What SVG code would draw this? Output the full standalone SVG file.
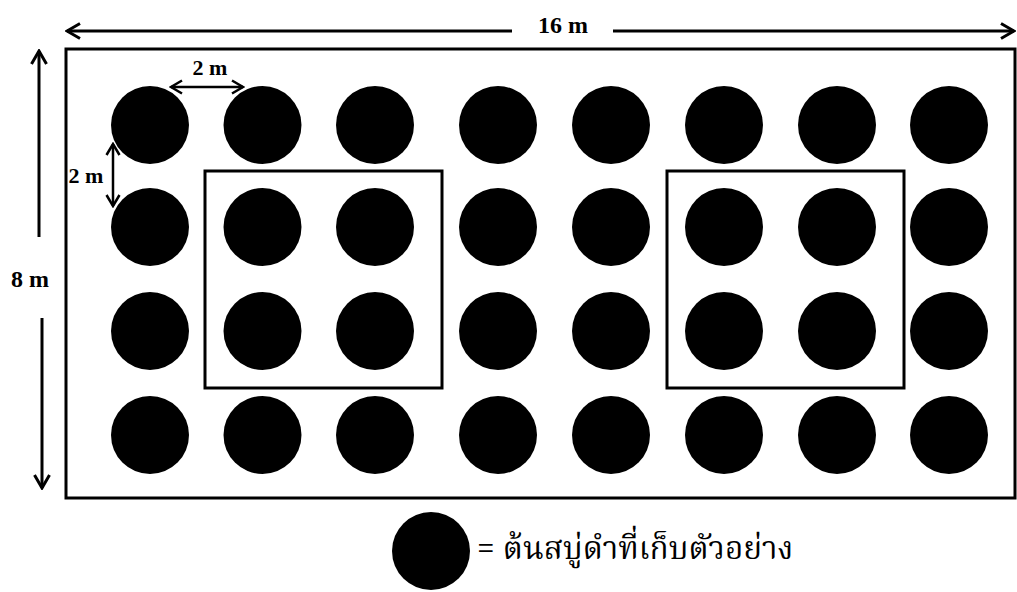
<svg xmlns="http://www.w3.org/2000/svg" width="1017" height="592" viewBox="0 0 1017 592">
  <style>
    .tree { fill: #000; }
    .frame { fill: none; stroke: #000; stroke-width: 3; }
    .dim { fill: none; stroke: #000; stroke-width: 3; }
    .dimS { fill: none; stroke: #000; stroke-width: 2.5; }
    .lbl { font-family: "Liberation Serif", "Times New Roman", serif; font-weight: bold; fill: #000; }
    .thai { font-family: "Noto Serif Thai", "Noto Sans Thai", "Tlwg Typo", "Garuda", "DejaVu Sans", sans-serif; fill: #000; }
  </style>
  <defs>
    <marker id="head" viewBox="0 0 16 18" refX="14" refY="9" markerWidth="16" markerHeight="18" markerUnits="userSpaceOnUse" orient="auto-start-reverse">
      <path d="M1,1.5 L14,9 L1,16.5" fill="none" stroke="#000" stroke-width="3"/>
    </marker>
    <marker id="headS" viewBox="0 0 14 16" refX="12" refY="8" markerWidth="14" markerHeight="16" markerUnits="userSpaceOnUse" orient="auto-start-reverse">
      <path d="M1,1.5 L12,8 L1,14.5" fill="none" stroke="#000" stroke-width="2.5"/>
    </marker>
  </defs>
  <rect width="1017" height="592" fill="#fff"/>

  <g id="plot">
    <rect class="frame" x="66" y="49" width="949" height="449"/>
  </g>
  <g id="subplot-left">
    <rect class="frame" x="205" y="171" width="237" height="217"/>
  </g>
  <g id="subplot-right">
    <rect class="frame" x="667" y="171" width="237" height="217"/>
  </g>

  <g id="trees">
    <g id="row1">
      <circle class="tree" cx="150" cy="125" r="39"/>
      <circle class="tree" cx="262.5" cy="125" r="39"/>
      <circle class="tree" cx="375" cy="125" r="39"/>
      <circle class="tree" cx="498" cy="125" r="39"/>
      <circle class="tree" cx="611" cy="125" r="39"/>
      <circle class="tree" cx="724" cy="125" r="39"/>
      <circle class="tree" cx="837" cy="125" r="39"/>
      <circle class="tree" cx="949" cy="125" r="39"/>
    </g>
    <g id="row2">
      <circle class="tree" cx="150" cy="227" r="39"/>
      <circle class="tree" cx="262.5" cy="227" r="39"/>
      <circle class="tree" cx="375" cy="227" r="39"/>
      <circle class="tree" cx="498" cy="227" r="39"/>
      <circle class="tree" cx="611" cy="227" r="39"/>
      <circle class="tree" cx="724" cy="227" r="39"/>
      <circle class="tree" cx="837" cy="227" r="39"/>
      <circle class="tree" cx="949" cy="227" r="39"/>
    </g>
    <g id="row3">
      <circle class="tree" cx="150" cy="331" r="39"/>
      <circle class="tree" cx="262.5" cy="331" r="39"/>
      <circle class="tree" cx="375" cy="331" r="39"/>
      <circle class="tree" cx="498" cy="331" r="39"/>
      <circle class="tree" cx="611" cy="331" r="39"/>
      <circle class="tree" cx="724" cy="331" r="39"/>
      <circle class="tree" cx="837" cy="331" r="39"/>
      <circle class="tree" cx="949" cy="331" r="39"/>
    </g>
    <g id="row4">
      <circle class="tree" cx="150" cy="435" r="39"/>
      <circle class="tree" cx="262.5" cy="435" r="39"/>
      <circle class="tree" cx="375" cy="435" r="39"/>
      <circle class="tree" cx="498" cy="435" r="39"/>
      <circle class="tree" cx="611" cy="435" r="39"/>
      <circle class="tree" cx="724" cy="435" r="39"/>
      <circle class="tree" cx="837" cy="435" r="39"/>
      <circle class="tree" cx="949" cy="435" r="39"/>
    </g>
  </g>

  <g id="dimensions">
    <path class="dim" d="M512,31 H67" marker-end="url(#head)"/>
    <path class="dim" d="M613,31 H1014" marker-end="url(#head)"/>
    <path class="dim" d="M39,237 V51" marker-end="url(#head)"/>
    <path class="dim" d="M42,318 V488" marker-end="url(#head)"/>
    <path class="dimS" d="M171,87 H243" marker-start="url(#headS)" marker-end="url(#headS)"/>
    <path class="dimS" d="M113,144 V206" marker-start="url(#headS)" marker-end="url(#headS)"/>
  </g>

  <g id="labels">
    <text class="lbl" x="563" y="33" font-size="24" text-anchor="middle">16 m</text>
    <text class="lbl" x="30" y="287" font-size="24" text-anchor="middle">8 m</text>
    <text class="lbl" x="210" y="75" font-size="22" text-anchor="middle">2 m</text>
    <text class="lbl" x="86" y="183" font-size="22" text-anchor="middle">2 m</text>
  </g>

  <g id="legend">
    <circle class="tree" cx="431" cy="551" r="39"/>
    <text class="thai" x="477" y="559" font-size="31.5">= ต้นสบู่ดำที่เก็บตัวอย่าง</text>
  </g>
</svg>
